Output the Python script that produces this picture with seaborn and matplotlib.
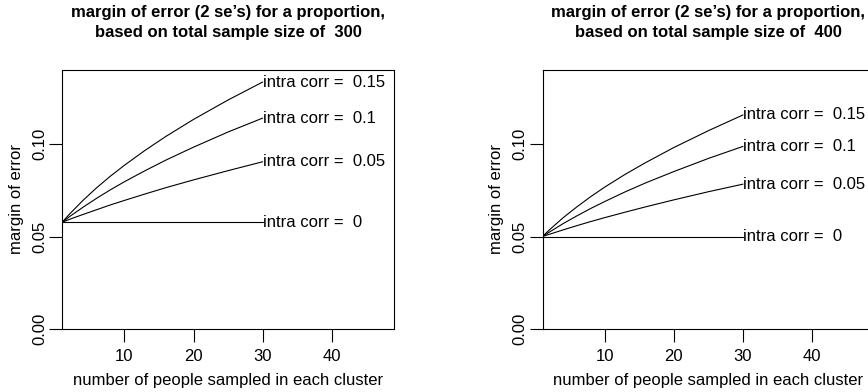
import matplotlib
matplotlib.use("Agg")
import matplotlib.pyplot as plt
import seaborn as sns
import pandas as pd

# cluster sizes (x) at which the curves were read
cluster_size = [1, 2, 4, 6, 8, 10, 13, 16, 20, 25, 30]
intra_corr = [0, 0.05, 0.1, 0.15]
corr_labels = ["0", "0.05", "0.1", "0.15"]

# margin of error, total sample size 300
moe_300_r0 = [0.0577] * 11
moe_300_r05 = [0.0577, 0.0592, 0.0619, 0.0645, 0.0671, 0.0695, 0.0730, 0.0764, 0.0806, 0.0856, 0.0904]
moe_300_r10 = [0.0577, 0.0606, 0.0658, 0.0707, 0.0753, 0.0796, 0.0856, 0.0913, 0.0983, 0.1065, 0.1140]
moe_300_r15 = [0.0577, 0.0619, 0.0695, 0.0764, 0.0827, 0.0885, 0.0966, 0.1041, 0.1133, 0.1238, 0.1335]

# margin of error, total sample size 400
moe_400_r0 = [0.0500] * 11
moe_400_r05 = [0.0500, 0.0512, 0.0536, 0.0559, 0.0581, 0.0602, 0.0632, 0.0661, 0.0698, 0.0742, 0.0783]
moe_400_r10 = [0.0500, 0.0524, 0.0570, 0.0612, 0.0652, 0.0689, 0.0742, 0.0791, 0.0851, 0.0922, 0.0987]
moe_400_r15 = [0.0500, 0.0536, 0.0602, 0.0661, 0.0716, 0.0767, 0.0837, 0.0901, 0.0981, 0.1072, 0.1157]

sample_sizes = [300, 400]
x_ticks = [10, 20, 30, 40]
y_ticks = [0.00, 0.05, 0.10]
y_tick_labels = ["0.00", "0.05", "0.10"]

series = {
    300: [moe_300_r0, moe_300_r05, moe_300_r10, moe_300_r15],
    400: [moe_400_r0, moe_400_r05, moe_400_r10, moe_400_r15],
}

sns.set_theme(style="ticks")
plt.rcParams["font.family"] = ["Liberation Sans", "DejaVu Sans"]
plt.rcParams["font.size"] = 12

W, H = 868, 392
fig = plt.figure(figsize=(W / 100, H / 100), dpi=100)

def px_axes(left, top, right, bottom):
    return fig.add_axes([left / W, (H - bottom) / H, (right - left) / W, (bottom - top) / H])

axes = [px_axes(62.2, 70, 394, 329), px_axes(542.5, 70, 874.3, 329)]

for ax, n in zip(axes, sample_sizes):
    rows = []
    for rho, vals in zip(intra_corr, series[n]):
        for m, v in zip(cluster_size, vals):
            rows.append({"m": m, "moe": v, "rho": str(rho)})
    df = pd.DataFrame(rows)
    sns.lineplot(data=df, x="m", y="moe", hue="rho", palette=["black"] * 4,
                 legend=False, linewidth=0.8, ax=ax, estimator=None, sort=True)
    for lab, vals in zip(corr_labels, series[n]):
        ax.text(cluster_size[-1], vals[-1], "intra corr =  " + lab, ha="left", va="center",
                fontsize=12, color="black", clip_on=False)
    ax.set_xlim(1, 49)
    ax.set_ylim(0, 0.14)
    ax.set_xticks(x_ticks)
    ax.set_xticklabels([str(t) for t in x_ticks])
    ax.set_yticks(y_ticks)
    ax.set_yticklabels(y_tick_labels, rotation=90, va="center")
    ax.tick_params(axis="both", direction="out", length=9.1, width=0.8, color="black",
                   labelsize=12, labelcolor="black")
    ax.tick_params(axis="x", pad=5.5)
    ax.tick_params(axis="y", pad=1.5)
    for sp in ax.spines.values():
        sp.set_visible(True)
        sp.set_linewidth(0.8)
        sp.set_color("black")
    ax.set_xlabel("number of people sampled in each cluster", fontsize=12, color="black")
    ax.set_ylabel("margin of error", fontsize=12, color="black")
    ax.xaxis.set_label_coords(0.5, -51 / 259)
    ax.xaxis.label.set_va("center")
    ax.yaxis.set_label_coords((16 - 62.2) / 331.8, 0.5)
    ax.yaxis.label.set_va("center")
    ax.text(0.5, 1 + (70 - 22.5) / 259,
            "margin of error (2 se\u2019s) for a proportion,\nbased on total sample size of  %d" % n,
            transform=ax.transAxes, ha="center", va="center", fontsize=12,
            fontweight="bold", linespacing=1.4, color="black")
    ax.set_facecolor("white")

fig.savefig("out.png", dpi=100, facecolor="white")
